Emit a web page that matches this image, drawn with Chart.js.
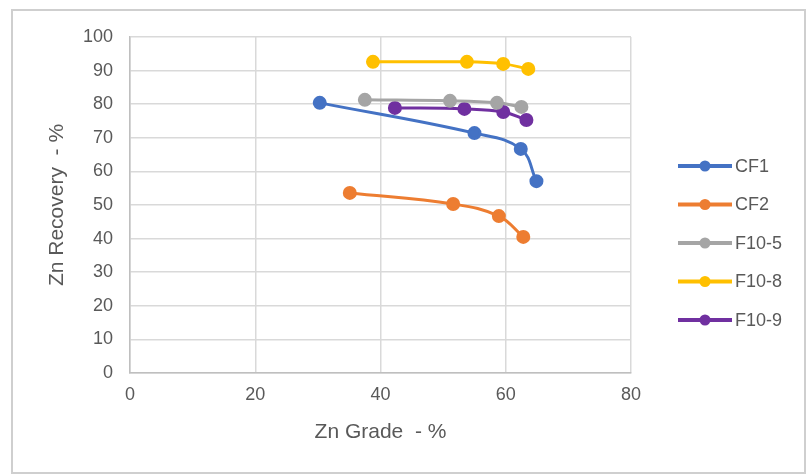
<!DOCTYPE html>
<html>
<head>
<meta charset="utf-8">
<script src="https://cdn.jsdelivr.net/npm/chart.js@4"></script>
<style>
  body { margin: 0; background: #fff; }
  .wrap { position: relative; width: 806px; height: 475px; }
  .frame {
    position: absolute; left: 11px; top: 9px; width: 791px; height: 461px;
    border: 2px solid #cfcfcf;
  }
  canvas { position: absolute; left: 0; top: 0; }
</style>
</head>
<body>
<div class="wrap">
  <div class="frame"></div>
  <canvas id="chart" width="806" height="475"></canvas>
</div>
<script>
const seriesNames = ["CF1", "CF2", "F10-5", "F10-8", "F10-9"];
const seriesColors = ["#4472C4", "#ED7D31", "#A5A5A5", "#FFC000", "#7030A0"];

// zn grade (x) and zn recovery (y) for each test
const cf1Grade = [30.3, 55.0, 62.4, 64.9];
const cf1Rec = [80.4, 71.4, 66.7, 57.1];
const cf2Grade = [35.1, 51.6, 58.9, 62.8];
const cf2Rec = [53.6, 50.3, 46.7, 40.5];
const f105Grade = [37.5, 51.1, 58.6, 62.5];
const f105Rec = [81.3, 81.0, 80.4, 79.2];
const f108Grade = [38.8, 53.8, 59.6, 63.6];
const f108Rec = [92.6, 92.6, 92.0, 90.5];
const f109Grade = [42.3, 53.4, 59.6, 63.3];
const f109Rec = [78.9, 78.6, 77.7, 75.3];

const xTicks = [0, 20, 40, 60, 80];
const yTicks = [0, 10, 20, 30, 40, 50, 60, 70, 80, 90, 100];

const grades = [cf1Grade, cf2Grade, f105Grade, f108Grade, f109Grade];
const recs = [cf1Rec, cf2Rec, f105Rec, f108Rec, f109Rec];

const FONT = "'Liberation Sans', Arial, sans-serif";
const TEXT = "#595959";

const datasets = seriesNames.map((name, i) => ({
  label: name,
  data: grades[i].map((g, j) => ({ x: g, y: recs[i][j] })),
  borderColor: seriesColors[i],
  backgroundColor: seriesColors[i],
  borderWidth: 3,
  pointRadius: 5.5,
  pointHoverRadius: 5.5,
  tension: 0.4,
  showLine: true,
}));

// legend drawn at the right, line + marker + name
const sideLegend = {
  id: "sideLegend",
  afterDraw(chart) {
    const ctx = chart.ctx;
    ctx.save();
    chart.data.datasets.forEach((ds, i) => {
      const y = 166 + i * 38.5;
      ctx.strokeStyle = ds.borderColor;
      ctx.lineWidth = 4;
      ctx.beginPath();
      ctx.moveTo(678, y);
      ctx.lineTo(732, y);
      ctx.stroke();
      ctx.fillStyle = ds.borderColor;
      ctx.beginPath();
      ctx.arc(705, y, 5.5, 0, Math.PI * 2);
      ctx.fill();
      ctx.fillStyle = TEXT;
      ctx.font = "18px " + FONT;
      ctx.textBaseline = "middle";
      ctx.textAlign = "left";
      ctx.fillText(ds.label, 735, y + 1);
    });
    ctx.restore();
  },
};

new Chart(document.getElementById("chart"), {
  type: "scatter",
  data: { datasets },
  options: {
    responsive: false,
    animation: false,
    layout: { padding: { left: 20, right: 175, top: 37, bottom: 10 } },
    plugins: { legend: { display: false }, tooltip: { enabled: false } },
    scales: {
      x: {
        type: "linear",
        min: 0,
        max: 80,
        afterBuildTicks: (scale) => {
          scale.ticks = xTicks.map((v) => ({ value: v }));
        },
        afterFit: (scale) => {
          scale.height = 92;
        },
        grid: { color: "#d9d9d9", lineWidth: 1.5, drawTicks: false },
        border: { color: "#bfbfbf", width: 1.5 },
        ticks: { color: TEXT, font: { family: FONT, size: 18 }, padding: 11 },
        title: {
          display: true,
          text: "Zn Grade  - %",
          color: TEXT,
          font: { family: FONT, size: 21 },
          padding: { top: 0, bottom: 20 },
        },
      },
      y: {
        type: "linear",
        min: 0,
        max: 100,
        afterBuildTicks: (scale) => {
          scale.ticks = yTicks.map((v) => ({ value: v }));
        },
        afterFit: (scale) => {
          scale.width = 110;
        },
        grid: { color: "#d9d9d9", lineWidth: 1.5, drawTicks: false },
        border: { color: "#bfbfbf", width: 1.5 },
        ticks: { color: TEXT, font: { family: FONT, size: 18 }, padding: 17 },
        title: {
          display: true,
          text: "Zn Recovery  - %",
          color: TEXT,
          font: { family: FONT, size: 21 },
          padding: { top: 25, bottom: 0 },
        },
      },
    },
  },
  plugins: [sideLegend],
});
</script>
</body>
</html>
